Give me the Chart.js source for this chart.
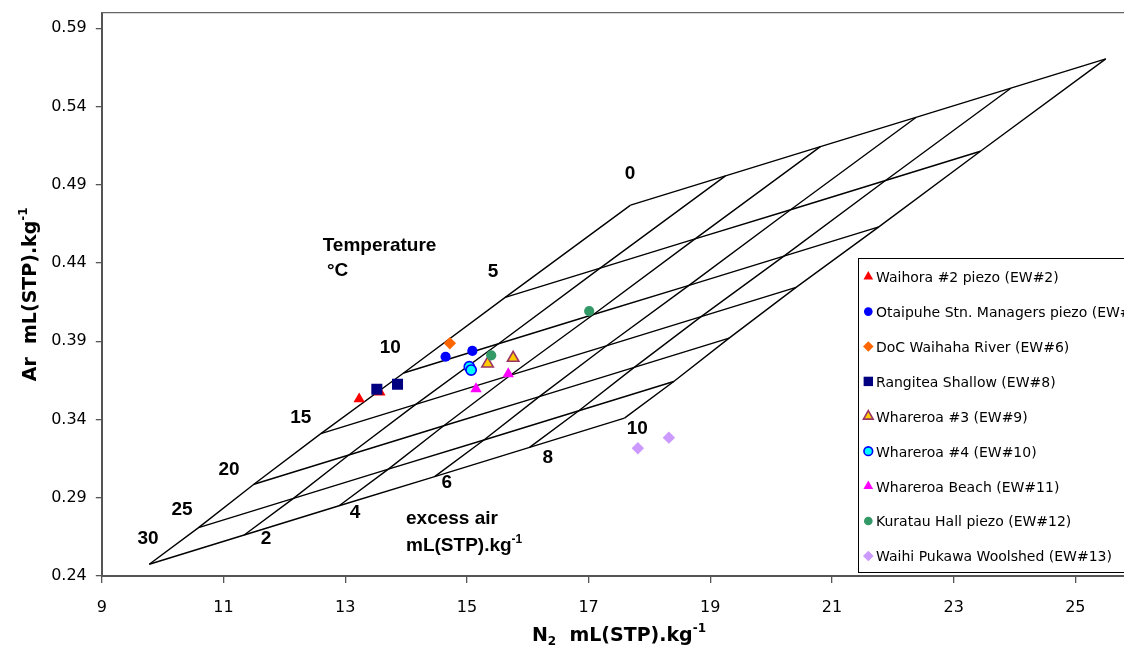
<!DOCTYPE html>
<html><head><meta charset="utf-8">
<script src="https://cdn.jsdelivr.net/npm/chart.js@4.4.1/dist/chart.umd.min.js"></script>
<style>
html,body{margin:0;padding:0;overflow:hidden;background:#fff;width:1124px;height:646px}
#wrap{position:absolute;left:0;top:0;width:1146px;height:646px}
</style>
</head><body><div id="wrap"><canvas id="c" width="1146" height="646"></canvas></div>
<script>
// ---- axis ticks ----
const xTicks = [9, 11, 13, 15, 17, 19, 21, 23, 25];
const yTicks = [0.24, 0.29, 0.34, 0.39, 0.44, 0.49, 0.54, 0.59];

// ---- sample series (N2, Ar in mL(STP)/kg) ----
const seriesNames = [
  'Waihora #2 piezo (EW#2)',
  'Otaipuhe Stn. Managers piezo (EW#4)',
  'DoC Waihaha River (EW#6)',
  'Rangitea Shallow (EW#8)',
  'Whareroa #3 (EW#9)',
  'Whareroa #4 (EW#10)',
  'Whareroa Beach (EW#11)',
  'Kuratau Hall piezo (EW#12)',
  'Waihi Pukawa Woolshed (EW#13)'
];
const waihoraN2 = [13.23, 13.57];   const waihoraAr = [0.3531, 0.3574];
const otaipuheN2 = [14.65, 15.09];  const otaipuheAr = [0.3801, 0.3838];
const docN2 = [14.72];              const docAr = [0.3887];
const rangiteaN2 = [13.52, 13.86];  const rangiteaAr = [0.3593, 0.3625];
const whareroa3N2 = [15.34, 15.76]; const whareroa3Ar = [0.3757, 0.3793];
const whareroa4N2 = [15.04, 15.07]; const whareroa4Ar = [0.3737, 0.3716];
const beachN2 = [15.15, 15.68];     const beachAr = [0.3596, 0.3691];
const kuratauN2 = [15.40, 17.01];   const kuratauAr = [0.3810, 0.4093];
const pukawaN2 = [17.81, 18.32];    const pukawaAr = [0.3216, 0.3284];

// ---- equilibrium grid: rows = temperature (°C), columns = excess air (mL/kg) ----
const tempLevels = [0, 5, 10, 15, 20, 25, 30];
const airLevels = [0, 2, 4, 6, 8, 10];
const gridN2 = [
  [17.69, 19.25, 20.81, 22.38, 23.94, 25.50],
  [15.63, 17.19, 18.75, 20.32, 21.88, 23.44],
  [13.96, 15.52, 17.08, 18.65, 20.21, 21.77],
  [12.60, 14.16, 15.72, 17.29, 18.85, 20.41],
  [11.50, 13.06, 14.62, 16.19, 17.75, 19.31],
  [10.59, 12.15, 13.71, 15.28, 16.84, 18.40],
  [9.78, 11.34, 12.90, 14.47, 16.03, 17.59]
];
const gridAr = [
  [0.4770, 0.4957, 0.5144, 0.5330, 0.5517, 0.5704],
  [0.4180, 0.4367, 0.4554, 0.4740, 0.4927, 0.5114],
  [0.3697, 0.3884, 0.4071, 0.4257, 0.4444, 0.4631],
  [0.3310, 0.3497, 0.3684, 0.3870, 0.4057, 0.4244],
  [0.2986, 0.3173, 0.3360, 0.3546, 0.3733, 0.3920],
  [0.2709, 0.2896, 0.3083, 0.3269, 0.3456, 0.3643],
  [0.2475, 0.2662, 0.2849, 0.3035, 0.3222, 0.3409]
];
// label anchors (data units)
const tempLabelN2 = [17.68, 15.43, 13.74, 12.27, 11.09, 10.32, 9.76];
const tempLabelAr = [0.4983, 0.4355, 0.3870, 0.3422, 0.3086, 0.2836, 0.2651];
const airLabelText = ['2', '4', '6', '8', '10'];
const airLabelN2 = [11.70, 13.16, 14.67, 16.33, 17.80];
const airLabelAr = [0.2647, 0.2815, 0.3003, 0.3167, 0.3352];

// ---- styles ----
const seriesN2 = [waihoraN2, otaipuheN2, docN2, rangiteaN2, whareroa3N2, whareroa4N2, beachN2, kuratauN2, pukawaN2];
const seriesAr = [waihoraAr, otaipuheAr, docAr, rangiteaAr, whareroa3Ar, whareroa4Ar, beachAr, kuratauAr, pukawaAr];
const markStyles = [
  {style: 'triangle', bg: '#FF0000', bd: '#FF0000', r: 6.6, bw: 0},
  {style: 'circle',   bg: '#0000FF', bd: '#0000FF', r: 5.1, bw: 0},
  {style: 'rectRot',  bg: '#FF6600', bd: '#FF6600', r: 6.2, bw: 0},
  {style: 'rect',     bg: '#000080', bd: '#000080', r: 7.8, bw: 0},
  {style: 'triangle', bg: '#FFCC00', bd: '#993366', r: 6.6, bw: 1.6},
  {style: 'circle',   bg: '#00FFFF', bd: '#0000FF', r: 5.1, bw: 1.6},
  {style: 'triangle', bg: '#FF00FF', bd: '#FF00FF', r: 6.6, bw: 0},
  {style: 'circle',   bg: '#339966', bd: '#339966', r: 5.1, bw: 0},
  {style: 'rectRot',  bg: '#CC99FF', bd: '#CC99FF', r: 6.2, bw: 0}
];

const datasets = [];
seriesNames.forEach((name, i) => {
  const s = markStyles[i];
  datasets.push({
    label: name,
    data: seriesN2[i].map((v, j) => ({x: v, y: seriesAr[i][j]})),
    pointStyle: s.style, pointRadius: s.r, pointHoverRadius: s.r,
    backgroundColor: s.bg, borderColor: s.bd, borderWidth: s.bw,
    showLine: false, order: 100 - i
  });
});
tempLevels.forEach((t, i) => {
  datasets.push({
    label: 'T' + t,
    data: gridN2[i].map((v, j) => ({x: v, y: gridAr[i][j]})),
    showLine: true, borderColor: '#000', borderWidth: 1.4, pointRadius: 0, fill: false, order: 200
  });
});
airLevels.forEach((a, j) => {
  datasets.push({
    label: 'EA' + a,
    data: gridN2.map((row, i) => ({x: row[j], y: gridAr[i][j]})),
    showLine: true, borderColor: '#000', borderWidth: 1.4, pointRadius: 0, fill: false, order: 200
  });
});

const BOLD = 'bold 19px "Liberation Sans", Arial, sans-serif';
function capText(ctx, txt, x, cy, size) {
  ctx.fillText(txt, x, cy + 0.358 * size);
}
function richText(ctx, segs, x, y, align) {
  let w = 0;
  segs.forEach(s => { ctx.font = s.f; w += ctx.measureText(s.t).width; });
  let cx = align === 'center' ? x - w / 2 : x;
  ctx.textAlign = 'left';
  segs.forEach(s => { ctx.font = s.f; ctx.fillText(s.t, cx, y + (s.dy || 0)); cx += ctx.measureText(s.t).width; });
}

const annotate = {
  id: 'annotate',
  afterDatasetsDraw(chart) {
    const {ctx, scales: {x, y}, chartArea} = chart;
    ctx.save();
    ctx.strokeStyle = '#666'; ctx.lineWidth = 1.3;
    ctx.beginPath();
    ctx.moveTo(chartArea.left, chartArea.top); ctx.lineTo(chartArea.right, chartArea.top);
    ctx.lineTo(chartArea.right, chartArea.bottom);
    ctx.stroke();
    ctx.fillStyle = '#000';
    ctx.font = BOLD; ctx.textAlign = 'center'; ctx.textBaseline = 'alphabetic';
    tempLevels.forEach((t, i) => capText(ctx, String(t), x.getPixelForValue(tempLabelN2[i]), y.getPixelForValue(tempLabelAr[i]), 19));
    airLabelText.forEach((t, i) => capText(ctx, t, x.getPixelForValue(airLabelN2[i]), y.getPixelForValue(airLabelAr[i]), 19));
    ctx.textAlign = 'left';
    capText(ctx, 'Temperature', x.getPixelForValue(12.63), y.getPixelForValue(0.4521), 19);
    capText(ctx, '°C', x.getPixelForValue(12.70), y.getPixelForValue(0.4360), 19);
    capText(ctx, 'excess air', x.getPixelForValue(14.00), y.getPixelForValue(0.2777), 19);
    richText(ctx, [
      {t: 'mL(STP).kg', f: BOLD},
      {t: '-1', f: 'bold 12px "Liberation Sans", Arial, sans-serif', dy: -8}
    ], x.getPixelForValue(14.00), y.getPixelForValue(0.2604) + 6.8, 'left');
    ctx.restore();
  },
  afterDraw(chart) {
    const ctx = chart.ctx;
    const ca = chart.chartArea;
    ctx.save();
    ctx.fillStyle = '#000'; ctx.textBaseline = 'alphabetic';
    const TB = 'bold 19px "DejaVu Sans", sans-serif';
    const SB = 'bold 12px "DejaVu Sans", sans-serif';
    richText(ctx, [
      {t: 'N', f: TB}, {t: '2', f: SB, dy: 4},
      {t: '  mL(STP).kg', f: TB}, {t: '-1', f: SB, dy: -9}
    ], (ca.left + ca.right) / 2, 641, 'center');
    ctx.translate(36, (ca.top + ca.bottom) / 2);
    ctx.rotate(-Math.PI / 2);
    richText(ctx, [
      {t: 'Ar  mL(STP).kg', f: TB}, {t: '-1', f: SB, dy: -9}
    ], 0, 0, 'center');
    ctx.restore();

    // legend box
    ctx.save();
    ctx.fillStyle = '#fff'; ctx.strokeStyle = '#000'; ctx.lineWidth = 1;
    ctx.fillRect(858.5, 258.5, 300, 314);
    ctx.strokeRect(858.5, 258.5, 300, 314);
    ctx.font = '14px "DejaVu Sans", sans-serif';
    ctx.textAlign = 'left'; ctx.textBaseline = 'alphabetic';
    seriesNames.forEach((name, i) => {
      const s = markStyles[i];
      const cy = 276.7 + i * 34.9;
      ctx.fillStyle = s.bg; ctx.strokeStyle = s.bd; ctx.lineWidth = s.bw;
      Chart.helpers.drawPoint(ctx, {pointStyle: s.style, radius: s.r * 0.85, rotation: 0, borderWidth: s.bw}, 868.3, cy);
      ctx.fillStyle = '#000';
      ctx.fillText(name, 876, cy + 5.4);
    });
    ctx.restore();
  }
};

new Chart(document.getElementById('c'), {
  type: 'scatter',
  data: {datasets},
  options: {
    responsive: false, animation: false, devicePixelRatio: 1,
    layout: {padding: {left: 0, top: 12.6, right: 9.8, bottom: 0}},
    plugins: {legend: {display: false}, tooltip: {enabled: false}, title: {display: false}},
    scales: {
      x: {
        type: 'linear', min: 9, max: 26,
        afterBuildTicks: s => { s.ticks = xTicks.map(v => ({value: v})); },
        afterFit: s => { s.height = 70; s.paddingLeft = 0; s.paddingRight = 0; },
        grid: {display: true, drawOnChartArea: false, drawTicks: true, tickLength: 7, color: '#555', lineWidth: 1.3},
        border: {display: true, color: '#555', width: 2},
        ticks: {color: '#000', font: {family: '"DejaVu Sans", sans-serif', size: 16}, padding: 15, maxRotation: 0, autoSkip: false, callback: v => String(v)}
      },
      y: {
        type: 'linear', min: 0.24, max: 0.60,
        afterBuildTicks: s => { s.ticks = yTicks.map(v => ({value: v})); },
        afterFit: s => { s.width = 101.8; s.paddingTop = 0; s.paddingBottom = 0; },
        grid: {display: true, drawOnChartArea: false, drawTicks: true, tickLength: 6, color: '#555', lineWidth: 1.3},
        border: {display: true, color: '#555', width: 2},
        ticks: {color: '#000', font: {family: '"DejaVu Sans", sans-serif', size: 16}, padding: 9, autoSkip: false, callback: v => v.toFixed(2)}
      }
    }
  },
  plugins: [annotate]
});
</script></body></html>
